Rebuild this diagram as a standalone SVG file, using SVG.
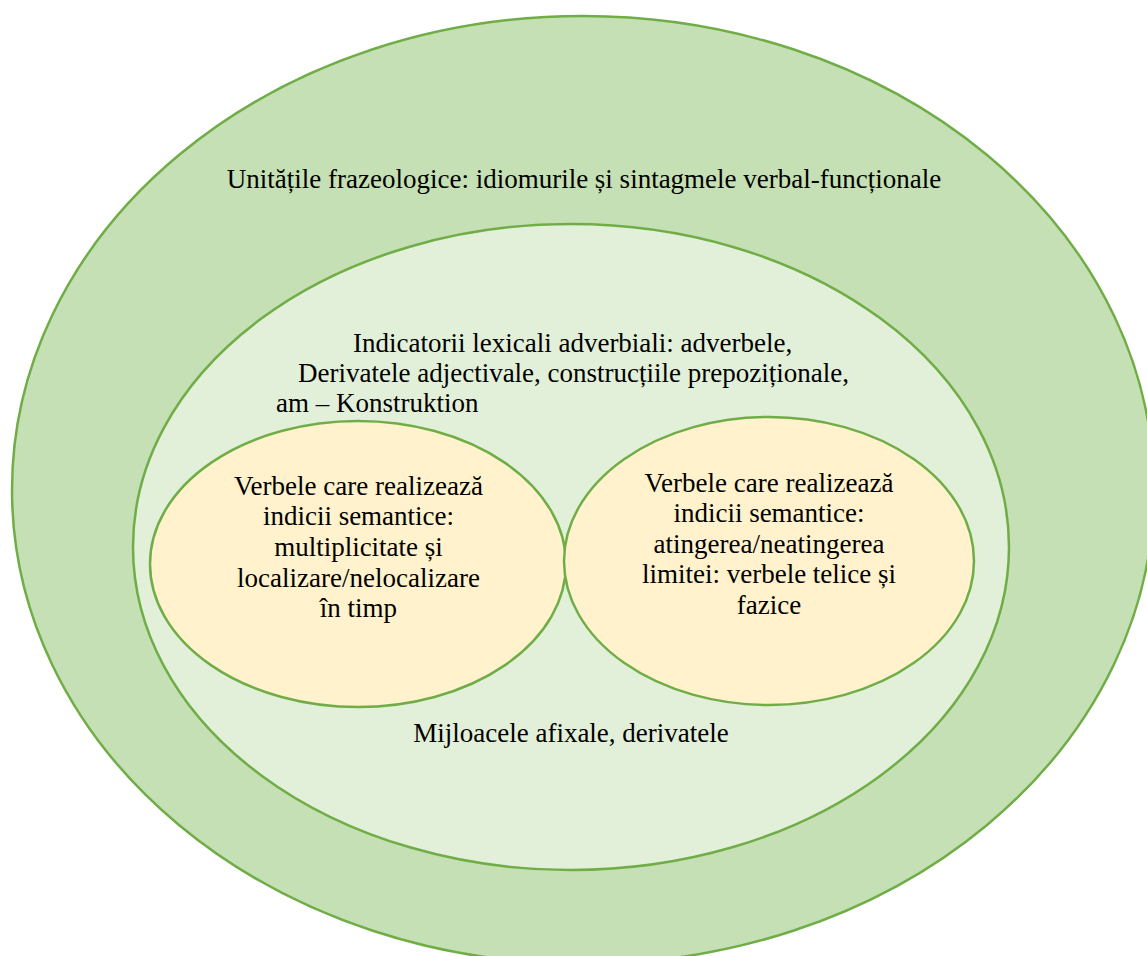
<svg xmlns="http://www.w3.org/2000/svg" width="1147" height="956" viewBox="0 0 1147 956">
<style>
.e{stroke:#70AD47;stroke-width:2.5}
.t{font-family:'Liberation Serif',serif;font-size:27px;fill:#000}
.c{text-anchor:middle}
</style>
<rect width="1147" height="956" fill="#fff"/>
<g id="outer">
<ellipse class="e" cx="583" cy="490" rx="571" ry="474" fill="#C5E0B4"/>
<text class="t c" x="584" y="188" font-family="Liberation Serif">Unitățile frazeologice: idiomurile și sintagmele verbal-funcționale</text>
</g>
<g id="middle">
<ellipse class="e" cx="571" cy="547" rx="438" ry="323" fill="#E2F0D9"/>
<text class="t" x="353" y="352" font-family="Liberation Serif">Indicatorii lexicali adverbiali: adverbele,</text>
<text class="t" x="298" y="382" font-family="Liberation Serif">Derivatele adjectivale, construcțiile prepoziționale,</text>
<text class="t" x="276" y="412" font-family="Liberation Serif">am – Konstruktion</text>
<text class="t c" x="571" y="742" font-family="Liberation Serif">Mijloacele afixale, derivatele</text>
</g>
<g id="left" font-family="Liberation Serif">
<ellipse class="e" cx="358" cy="564" rx="208" ry="143" fill="#FFF2CC"/>
<text class="t c" x="358.5" y="495">Verbele care realizează</text>
<text class="t c" x="358.5" y="525">indicii semantice:</text>
<text class="t c" x="358.5" y="556">multiplicitate și</text>
<text class="t c" x="358.5" y="587">localizare/nelocalizare</text>
<text class="t c" x="358.5" y="617">în timp</text>
</g>
<g id="right" font-family="Liberation Serif">
<ellipse class="e" cx="769" cy="561" rx="205" ry="144" fill="#FFF2CC"/>
<text class="t c" x="769" y="492">Verbele care realizează</text>
<text class="t c" x="769" y="522">indicii semantice:</text>
<text class="t c" x="769" y="553">atingerea/neatingerea</text>
<text class="t c" x="769" y="583">limitei: verbele telice și</text>
<text class="t c" x="769" y="614">fazice</text>
</g>
<g id="connectors"/>
</svg>
